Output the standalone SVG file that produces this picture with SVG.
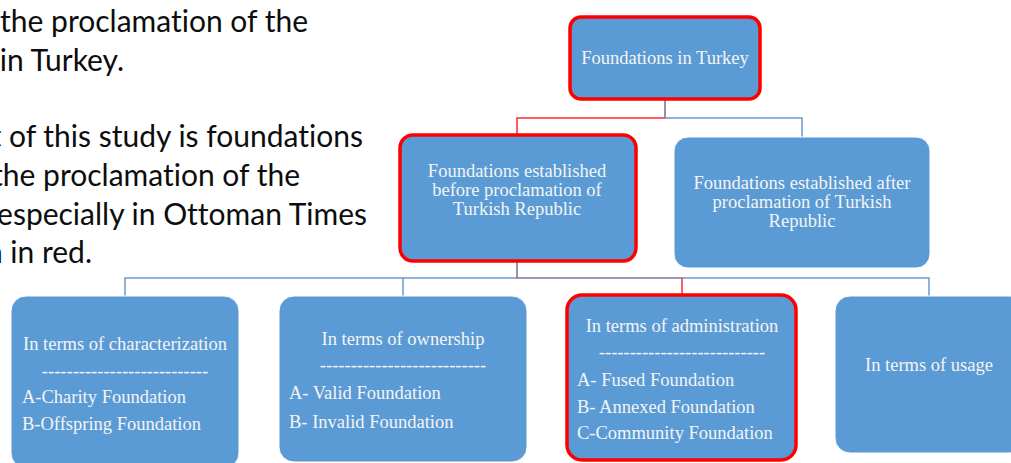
<svg xmlns="http://www.w3.org/2000/svg" width="1011" height="463" viewBox="0 0 1011 463">
  <style>
    .body { font-family: Lato, "Open Sans", "Liberation Sans", sans-serif; font-size: 30px; fill: #0D0D0D; font-variant-ligatures: none; }
    .box { fill: #5B9BD5; stroke: #FFFFFF; stroke-width: 1; }
    .hl { fill: #5B9BD5; stroke: #FF0000; stroke-width: 3.5; }
    .lbl { font-family: "Liberation Serif", "Times New Roman", serif; font-size: 18.5px; fill: #F4F4F4; }
    .mid { text-anchor: middle; }
    .blue { stroke: #6E98C9; stroke-width: 1.5; fill: none; }
    .red { stroke: #FF2A2A; stroke-width: 1.5; fill: none; }
    .mix { stroke: #87709A; stroke-width: 1.6; fill: none; }
  </style>

  <!-- running text on the left edge of the slide -->
  <g id="slide-text" class="body" text-anchor="end">
    <text x="308" y="32">the proclamation of the</text>
    <text x="124" y="71">in Turkey.</text>
    <text x="363" y="147">t of this study is foundations</text>
    <text x="300" y="186">the proclamation of the</text>
    <text x="367" y="225">especially in Ottoman Times</text>
    <text x="92" y="263">n in red.</text>
  </g>

  <!-- connectors -->
  <g id="connectors">
    <path class="red" d="M665 118 H517 V134"/>
    <path class="blue" d="M665 118 H802 V137"/>
    <path class="mix" d="M665 100 V118"/>

    <path class="blue" d="M517 278 H125 V296"/>
    <path class="blue" d="M403 278 V296"/>
    <path class="blue" d="M682 278 H929 V296"/>
    <path class="red" d="M682 278 V294"/>
    <path class="mix" d="M517 262 V278 H682"/>
  </g>

  <g id="node-root">
    <rect class="hl" x="570" y="17" width="190" height="82" rx="11"/>
    <text class="lbl mid" x="665" y="64">Foundations in Turkey</text>
  </g>

  <g id="node-before">
    <rect class="hl" x="400" y="135" width="236" height="126" rx="13"/>
    <text class="lbl mid" x="517" y="177">Foundations established</text>
    <text class="lbl mid" x="517" y="196">before proclamation of</text>
    <text class="lbl mid" x="517" y="215">Turkish Republic</text>
  </g>

  <g id="node-after">
    <rect class="box" x="674" y="137" width="256" height="131" rx="14"/>
    <text class="lbl mid" x="802" y="189">Foundations established after</text>
    <text class="lbl mid" x="802" y="208">proclamation of Turkish</text>
    <text class="lbl mid" x="802" y="227">Republic</text>
  </g>

  <g id="node-characterization">
    <rect class="box" x="11" y="296" width="228" height="172" rx="15"/>
    <text class="lbl mid" x="125" y="350">In terms of characterization</text>
    <text class="lbl mid" x="125" y="377">---------------------------</text>
    <text class="lbl" x="22" y="403">A-Charity Foundation</text>
    <text class="lbl" x="22" y="430">B-Offspring Foundation</text>
  </g>

  <g id="node-ownership">
    <rect class="box" x="279" y="296" width="248" height="166" rx="15"/>
    <text class="lbl mid" x="403" y="345">In terms of ownership</text>
    <text class="lbl mid" x="403" y="371">---------------------------</text>
    <text class="lbl" x="289" y="399">A- Valid Foundation</text>
    <text class="lbl" x="289" y="428">B- Invalid Foundation</text>
  </g>

  <g id="node-administration">
    <rect class="hl" x="567" y="295" width="229" height="165" rx="15"/>
    <text class="lbl mid" x="682" y="332">In terms of administration</text>
    <text class="lbl mid" x="682" y="358">---------------------------</text>
    <text class="lbl" x="577" y="386">A- Fused Foundation</text>
    <text class="lbl" x="577" y="413">B- Annexed Foundation</text>
    <text class="lbl" x="577" y="439">C-Community Foundation</text>
  </g>

  <g id="node-usage">
    <rect class="box" x="835" y="296" width="190" height="157" rx="15"/>
    <text class="lbl mid" x="929" y="371">In terms of usage</text>
  </g>
</svg>
